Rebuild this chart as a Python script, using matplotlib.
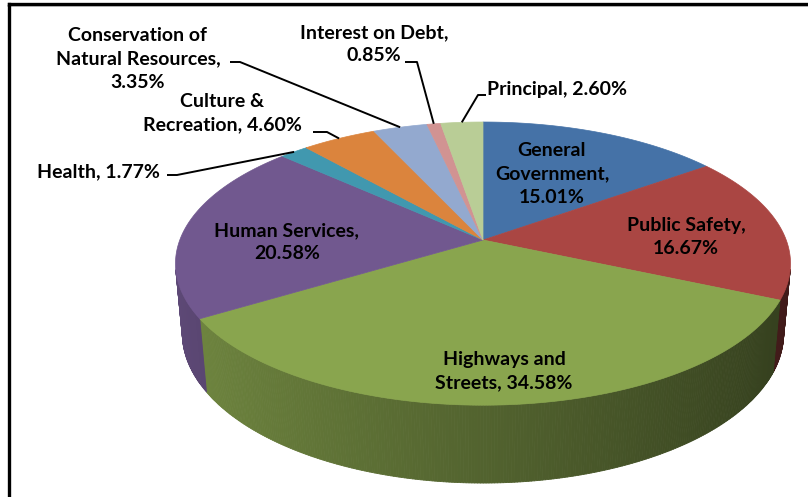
import numpy as np
import matplotlib.pyplot as plt
from matplotlib.collections import PolyCollection

# Expenditure shares (percent), in drawing order clockwise from 12 o'clock
categories = ["General\nGovernment,", "Public Safety,", "Highways and\nStreets,",
              "Human Services,", "Health,", "Culture &\nRecreation,",
              "Conservation of\nNatural Resources,", "Interest on Debt,", "Principal,"]
shares = [15.01, 16.67, 34.58, 20.58, 1.77, 4.60, 3.35, 0.85, 2.60]
colors = ["#4572A7", "#AA4643", "#89A54E", "#71588F", "#4198AF",
          "#DB843D", "#93A9CF", "#D19392", "#B9CD96"]

# label layout: text centre (px), separator between name and value,
# and for outside labels the leader start/elbow (px)
label_layout = [
    dict(xy=(552, 174), sep="\n"),
    dict(xy=(686, 237), sep="\n"),
    dict(xy=(504, 371), sep=" "),
    dict(xy=(287, 242), sep="\n"),
    dict(xy=(98, 172), sep=" ", leader=[(167, 175), (177, 175)]),
    dict(xy=(222, 113), sep=" ", leader=[(313, 132), (327, 132)]),
    dict(xy=(138, 59), sep="\n", leader=[(230, 62), (240, 62)]),
    dict(xy=(374, 44), sep="\n", leader=[(405, 62), (417, 62)]),
    dict(xy=(557, 89), sep=" ", leader=[(486, 95), (478, 95)]),
]

W, H = 808, 497
CX, CY = 483, 240          # projected disc centre (px)
ELEV = np.radians(27)
S, C = np.sin(ELEV), np.cos(ELEV)
DIST = 6 * C               # camera distance (perspective strength)
FOCAL = 1621
THICK = 0.26


def project(x, y, z):
    """Perspective projection of disc coordinates (y = depth away from viewer)."""
    depth = DIST + y * C - z * S
    px = CX + FOCAL * x / depth
    py = CY - FOCAL * (y * S + z * C) / depth
    return px, py


def side_shade(theta):
    return 0.60 - 0.23 * np.cos(theta)


fig = plt.figure(figsize=(W / 100, H / 100), dpi=100)
ax = fig.add_axes([0, 0, 1, 1])
ax.set_xlim(0, W)
ax.set_ylim(H, 0)
ax.axis("off")

fracs = np.array(shares) / sum(shares)
bounds = np.concatenate([[0], np.cumsum(fracs)])
# start at the far point and run clockwise as seen from above
angles = np.pi / 2 - 2 * np.pi * bounds

# side walls: only the rim segments that face the camera
vis_limit = -1.0 / (DIST * C)
side_polys, side_cols = [], []
for i, col in enumerate(colors):
    base = np.array(plt.matplotlib.colors.to_rgb(col))
    th = np.linspace(angles[i], angles[i + 1], max(4, int(abs(angles[i + 1] - angles[i]) / 0.008)))
    for a0, a1 in zip(th[:-1], th[1:]):
        am = 0.5 * (a0 + a1)
        if np.sin(am) >= vis_limit:
            continue
        pts = [project(np.cos(a0), np.sin(a0), 0), project(np.cos(a1), np.sin(a1), 0),
               project(np.cos(a1), np.sin(a1), -THICK), project(np.cos(a0), np.sin(a0), -THICK)]
        side_polys.append(pts)
        side_cols.append(np.clip(base * side_shade(am), 0, 1))
ax.add_collection(PolyCollection(side_polys, facecolors=side_cols, edgecolors=side_cols,
                                 linewidths=0.6))

# top faces
for i, col in enumerate(colors):
    th = np.linspace(angles[i], angles[i + 1], 200)
    xs, ys = project(np.cos(th), np.sin(th), 0)
    poly = np.column_stack([np.r_[CX, xs], np.r_[CY, ys]])
    ax.add_patch(plt.Polygon(poly, closed=True, facecolor=col, edgecolor=col, linewidth=0.5))

# labels and leader lines
font = dict(family="Lato", weight="bold", fontsize=14, color="black")
for i, (name, val) in enumerate(zip(categories, shares)):
    lay = label_layout[i]
    ax.text(lay["xy"][0], lay["xy"][1], f"{name}{lay['sep']}{val:.2f}%",
            ha="center", va="center", multialignment="center", linespacing=1.45, **font)
    if "leader" in lay:
        mid = 0.5 * (angles[i] + angles[i + 1])
        ex, ey = project(np.cos(mid), np.sin(mid), 0)
        pts = lay["leader"] + [(ex, ey)]
        ax.plot([p[0] for p in pts], [p[1] for p in pts], color="black", lw=1.4,
                solid_capstyle="butt")

# chart frame (top and left edges)
ax.plot([8, W], [5.5, 5.5], color="#c8c8c8", lw=1.2, clip_on=False)
ax.plot([9, W], [4, 4], color="black", lw=2.4, clip_on=False)
ax.plot([9, 9], [4, H], color="black", lw=2.4, clip_on=False)

fig.savefig("out.png", dpi=100)
